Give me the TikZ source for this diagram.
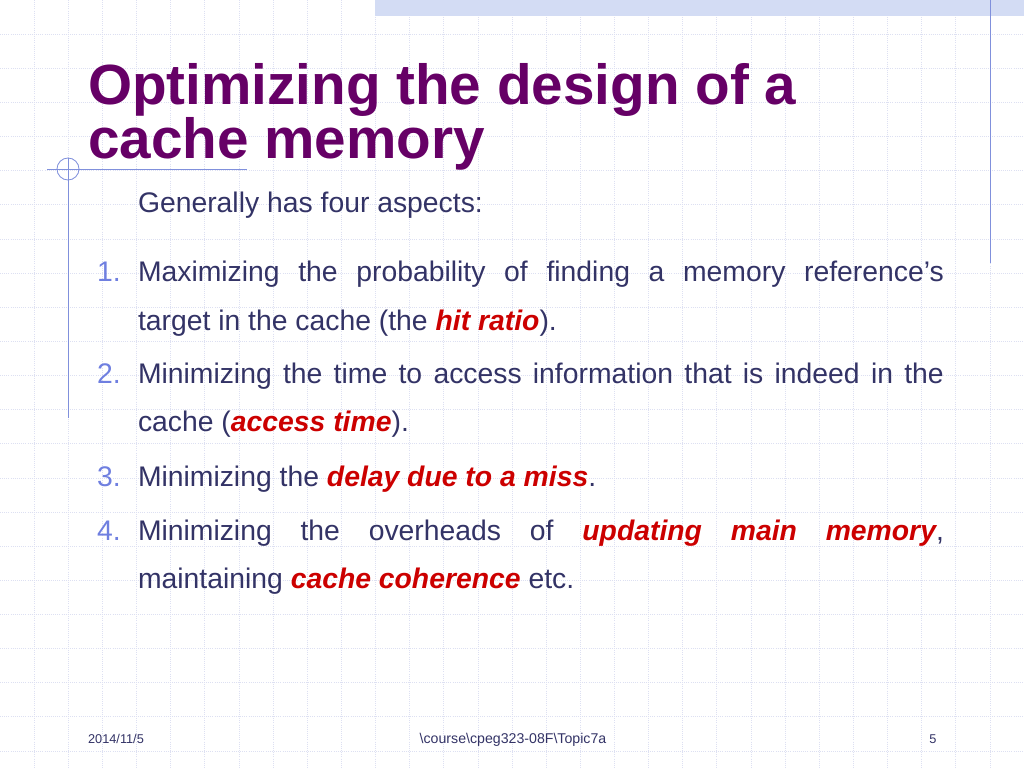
\documentclass[tikz,border=0pt]{standalone}
\usepackage{fontspec}
\setmainfont{Liberation Sans}
\usetikzlibrary{positioning}

\definecolor{titlepurple}{HTML}{660066}
\definecolor{bodyblue}{HTML}{333366}
\definecolor{numblue}{HTML}{6F7FE0}
\definecolor{keyred}{HTML}{CC0000}
\definecolor{gridblue}{HTML}{DDE0F2}
\definecolor{rulerblue}{HTML}{8090DC}
\definecolor{bandblue}{HTML}{D3DCF4}

\newcommand{\key}[1]{{\color{keyred}\bfseries\itshape #1}}
\newcommand{\fullline}[1]{\makebox[568.9pt][s]{#1}}

\begin{document}
\begin{tikzpicture}[
  x=0.0248046875cm, y=-0.0248046875cm,
  every node/.style = {inner sep=0pt, outer sep=0pt},
  gridline/.style = {gridblue, line width=0.5pt, densely dotted},
  ruler/.style = {rulerblue, line width=0.6pt},
  titletext/.style = {anchor=base west, align=left, text=titlepurple, font=\fontsize{40}{38.1}\bfseries\selectfont},
  bodytext/.style = {anchor=base west, text=bodyblue, font=\fontsize{20}{24}\selectfont},
  itemnum/.style = {anchor=base west, text=numblue, font=\fontsize{20}{24}\selectfont},
  foottext/.style = {anchor=base, text=bodyblue, font=\fontsize{9}{11}\selectfont}
]
\useasboundingbox (0,0) rectangle (1024,768);
\fill[white] (0,0) rectangle (1024,768);

% Background grid
\foreach \i in {1,...,29}
  \draw[gridline] (\i*34.133,0) -- (\i*34.133,768);
\foreach \j in {1,...,22}
  \draw[gridline] (0,\j*34.133) -- (1024,\j*34.133);

% Top band and rulers
\fill[bandblue] (375,0) rectangle (1024,16);
\draw[ruler] (990,0) -- (990,263);
\draw[ruler] (47,169) -- (247,169);
\draw[ruler] (68,158) -- (68,418);
\draw[ruler] (68,169) circle (11);

% Title (base anchor sits on the last line)
\node[titletext] (title) at (88,158) {Optimizing the design of a\\cache memory};

% Body
\node[bodytext] (intro) at (138,212) {Generally has four aspects:};

\node[itemnum] (n1) at (97,281) {1.};
\node[bodytext] (i1a) at (138,281) {\fullline{Maximizing the probability of finding a memory reference’s}};
\node[bodytext] (i1b) at (138,330) {target in the cache (the \key{hit ratio}).};

\node[itemnum] (n2) at (97,383) {2.};
\node[bodytext] (i2a) at (138,383) {\fullline{Minimizing the time to access information that is indeed in the}};
\node[bodytext] (i2b) at (138,431) {cache (\key{access time}).};

\node[itemnum] (n3) at (97,486) {3.};
\node[bodytext] (i3a) at (138,486) {Minimizing the \key{delay due to a miss}.};

\node[itemnum] (n4) at (97,540) {4.};
\node[bodytext] (i4a) at (138,540) {\fullline{Minimizing the overheads of \key{updating main memory},}};
\node[bodytext] (i4b) at (138,588) {maintaining \key{cache coherence} etc.};

% Footer
\node[foottext] (date) at (116,743) {2014/11/5};
\node[foottext, font=\fontsize{10}{12}\selectfont] (path) at (513,743) {\textbackslash course\textbackslash cpeg323-08F\textbackslash Topic7a};
\node[foottext] (page) at (933,743) {5};

\end{tikzpicture}
\end{document}
